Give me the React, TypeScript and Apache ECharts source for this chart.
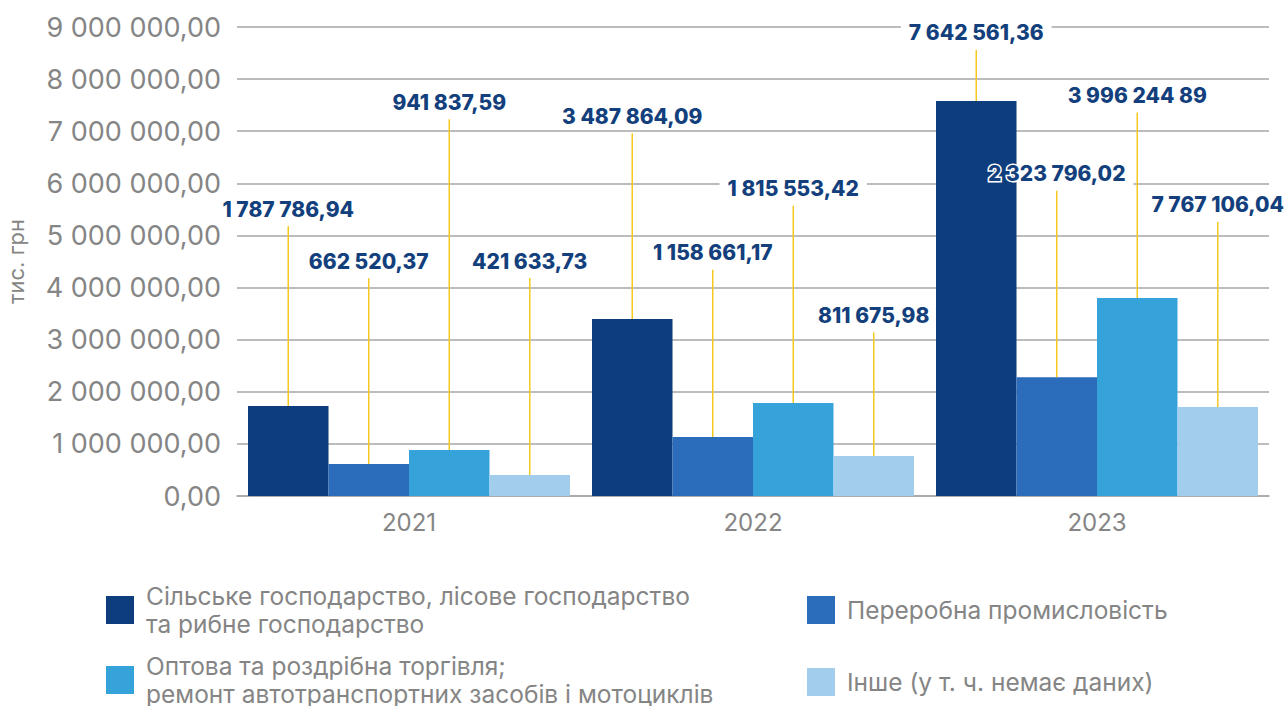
import React, { useEffect, useRef } from "react";
import * as echarts from "echarts";

const categories = ["2021", "2022", "2023"];
const seriesNames = [
  "Сільське господарство, лісове господарство\nта рибне господарство",
  "Переробна промисловість",
  "Оптова та роздрібна торгівля;\nремонт автотранспортних засобів і мотоциклів",
  "Інше (у т. ч. немає даних)",
];
const agriculture = [1727000, 3397000, 7580000];
const manufacturing = [614000, 1132000, 2280000];
const trade = [883000, 1785000, 3800000];
const other = [403000, 768000, 1708000];

const agricultureLabels = ["1 787 786,94", "3 487 864,09", "7 642 561,36"];
const manufacturingLabels = ["662 520,37", "1 158 661,17", "2 323 796,02"];
const tradeLabels = ["941 837,59", "1 815 553,42", "3 996 244 89"];
const otherLabels = ["421 633,73", "811 675,98", "7 767 106,04"];

// heights (in axis units) where the callout leader lines end
const agricultureLabelLevel = [5180000, 6960000, 8560000];
const manufacturingLabelLevel = [4180000, 4340000, 5860000];
const tradeLabelLevel = [7230000, 5570000, 7360000];
const otherLabelLevel = [4180000, 3140000, 5260000];

const yTicks = { min: 0, max: 9000000, interval: 1000000 };

const colors = ["#0d3d7c", "#2b6cbb", "#35a3d9", "#a3cdec"];
const GRAY = "#858585";
const LABEL_COLOR = "#133f7d";
const YELLOW = "#f5c81e";
const CAT_GAP = 0.064;
const FAMILY = "Inter, 'Open Sans', sans-serif";

const fmt = (v: number) =>
  Math.round(v).toString().replace(/\B(?=(\d{3})+(?!\d))/g, " ") + ",00";

export default function App() {
  const ref = useRef<HTMLDivElement>(null);
  useEffect(() => {
    if (!ref.current) return;
    const chart = echarts.init(ref.current, null, { renderer: "svg" });
    const values = [agriculture, manufacturing, trade, other];
    const labels = [agricultureLabels, manufacturingLabels, tradeLabels, otherLabels];
    const levels = [agricultureLabelLevel, manufacturingLabelLevel, tradeLabelLevel, otherLabelLevel];

    const calloutData: number[][] = [];
    const calloutText: string[] = [];
    values.forEach((arr, k) => {
      arr.forEach((v, c) => {
        calloutData.push([c, v, levels[k][c], k]);
        calloutText.push(labels[k][c]);
      });
    });

    const geom = (api: any) => {
      const cat = api.value(0);
      const val = api.value(1);
      const lvl = api.value(2);
      const k = api.value(3);
      const band = api.size([1, 0])[0];
      const gap = band * CAT_GAP;
      const bw = (band - gap) / 4;
      const c = api.coord([cat, 0]);
      const x = c[0] - band / 2 + gap / 2 + (k + 0.5) * bw;
      const yTop = api.coord([cat, val])[1];
      const yLbl = api.coord([cat, lvl])[1];
      return { x, yTop, yLbl };
    };
    const font = "800 21px Inter, 'Open Sans', sans-serif";

    const legendBase = {
      orient: "vertical" as const,
      icon: "rect",
      itemWidth: 28,
      itemHeight: 28,
      padding: 0,
      selectedMode: false,
      textStyle: {
        color: GRAY,
        fontSize: 24.5,
        fontFamily: FAMILY,
        lineHeight: 28,
        padding: [0, 0, 0, 7],
      },
    };

    chart.setOption({
      animation: false,
      backgroundColor: "#ffffff",
      grid: {
        left: 237,
        right: 16,
        top: 27,
        bottom: 210,
        containLabel: false,
        outerBoundsMode: "none",
      },
      legend: [
        { ...legendBase, left: 106, top: 582, data: [seriesNames[0]] },
        { ...legendBase, left: 807, top: 596, data: [seriesNames[1]] },
        { ...legendBase, left: 106, top: 652, data: [seriesNames[2]] },
        { ...legendBase, left: 807, top: 668, data: [seriesNames[3]] },
      ],
      xAxis: {
        type: "category",
        data: categories,
        axisLine: { lineStyle: { color: "#a6a6a6", width: 1.5 } },
        axisTick: { show: false },
        axisLabel: {
          color: GRAY,
          fontSize: 24,
          fontFamily: FAMILY,
          margin: 14,
        },
      },
      yAxis: {
        type: "value",
        min: yTicks.min,
        max: yTicks.max,
        interval: yTicks.interval,
        name: "тис. грн",
        nameLocation: "middle",
        nameRotate: 90,
        nameGap: 210,
        nameTextStyle: {
          color: GRAY,
          fontSize: 22,
          fontFamily: FAMILY,
        },
        axisLine: { show: false },
        axisTick: { show: false },
        splitLine: { lineStyle: { color: "#a6a6a6", width: 1.5 } },
        axisLabel: {
          color: GRAY,
          fontSize: 27,
          fontFamily: FAMILY,
          margin: 16,
          formatter: (v: number) => fmt(v),
        },
      },
      series: [
        ...values.map((arr, k) => ({
          name: seriesNames[k],
          type: "bar",
          data: arr,
          barGap: "0%",
          barCategoryGap: CAT_GAP * 100 + "%",
          itemStyle: { color: colors[k] },
          z: 2,
        })),
        {
          type: "custom",
          z: 1,
          silent: true,
          encode: { x: 0, y: 1 },
          data: calloutData,
          renderItem: (params: any, api: any) => {
            const g = geom(api);
            return {
              type: "text",
              x: g.x,
              y: g.yLbl - 17,
              style: {
                text: calloutText[params.dataIndex],
                font,
                fill: "rgba(255,255,255,0)",
                align: "center",
                verticalAlign: "middle",
                textAlign: "center",
                textVerticalAlign: "middle",
                backgroundColor: "#ffffff",
                padding: [2, 8],
              },
            };
          },
        },
        {
          type: "custom",
          z: 3,
          silent: true,
          encode: { x: 0, y: 1 },
          data: calloutData,
          renderItem: (params: any, api: any) => {
            const g = geom(api);
            return {
              type: "group",
              children: [
                {
                  type: "line",
                  shape: { x1: g.x, y1: g.yLbl, x2: g.x, y2: g.yTop },
                  style: { stroke: YELLOW, lineWidth: 1.5 },
                },
                {
                  type: "text",
                  x: g.x,
                  y: g.yLbl - 17,
                  style: {
                    text: calloutText[params.dataIndex],
                    font,
                    fill: LABEL_COLOR,
                    stroke: "#ffffff",
                    lineWidth: 3,
                    align: "center",
                    verticalAlign: "middle",
                    textAlign: "center",
                    textVerticalAlign: "middle",
                  },
                },
              ],
            };
          },
        },
      ],
    });
    return () => chart.dispose();
  }, []);
  return (
    <div
      ref={ref}
      style={{ position: "fixed", left: 0, top: 0, width: 1285, height: 706 }}
    />
  );
}
